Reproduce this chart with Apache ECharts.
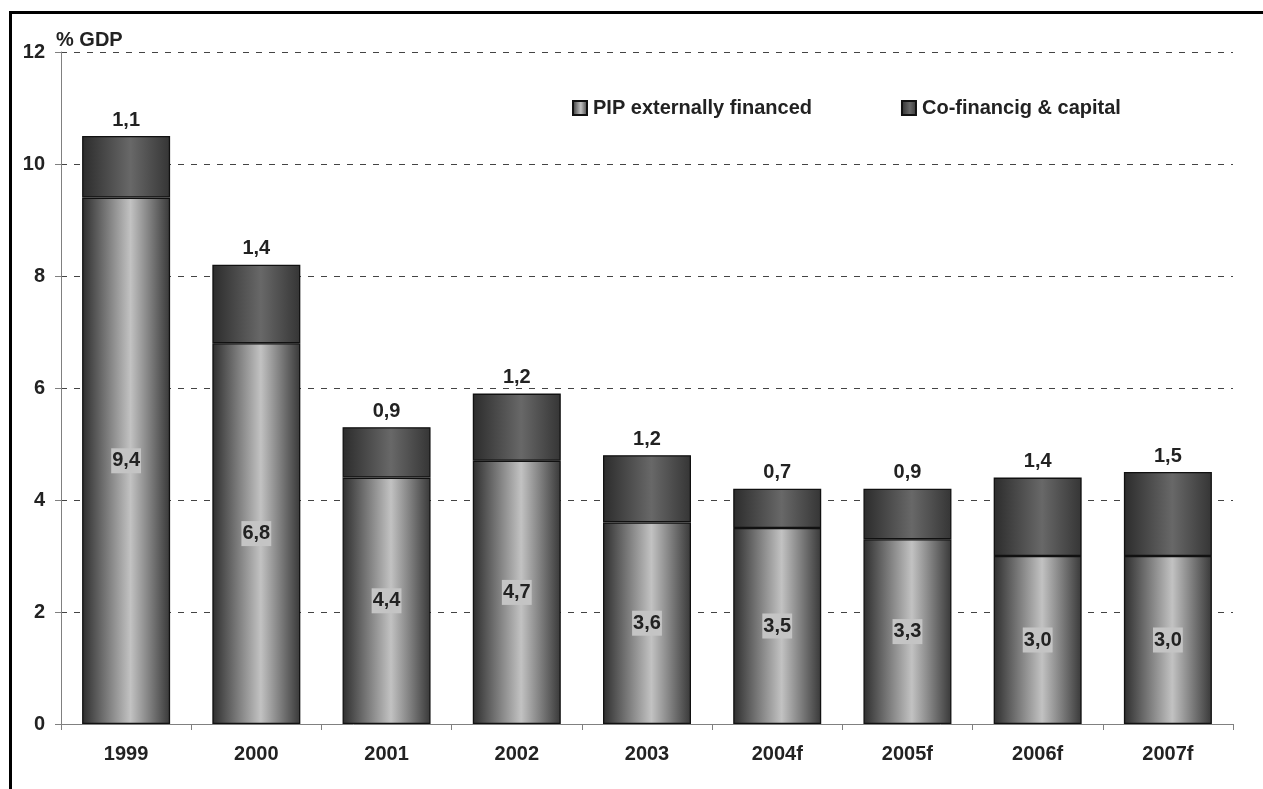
<!DOCTYPE html>
<html>
<head>
<meta charset="utf-8">
<script src="https://cdn.jsdelivr.net/npm/echarts@6/dist/echarts.min.js"></script>
<style>
  html, body { margin: 0; padding: 0; background: #fff; }
  #chart { width: 1263px; height: 789px; }
</style>
</head>
<body>
<div id="chart"></div>
<script>
// Public investment programme, % of GDP
const years = ['1999', '2000', '2001', '2002', '2003', '2004f', '2005f', '2006f', '2007f'];
const pipExternal = [9.4, 6.8, 4.4, 4.7, 3.6, 3.5, 3.3, 3.0, 3.0];
const coFinancing = [1.1, 1.4, 0.9, 1.2, 1.2, 0.7, 0.9, 1.4, 1.5];
const yTicks = [0, 2, 4, 6, 8, 10, 12];

const FONT = 'Liberation Sans, Arial, sans-serif';
const TXT = '#222';

const commaFmt = v => v.toFixed(1).replace('.', ',');

function hGrad(stops) {
  return new echarts.graphic.LinearGradient(0, 0, 1, 0,
    stops.map(([o, c]) => ({ offset: o, color: c })));
}

const lightBar = hGrad([[0, '#2e2e2e'], [0.55, '#c2c2c2'], [1, '#383838']]);
const darkBar = hGrad([[0, '#2c2c2c'], [0.55, '#686868'], [1, '#353535']]);

const chart = echarts.init(document.getElementById('chart'), null, { renderer: 'canvas' });

chart.setOption({
  animation: false,
  backgroundColor: '#fff',
  textStyle: { fontFamily: FONT },
  grid: { left: 61, right: 30, top: 52, bottom: 65 },
  legend: {
    left: 572, top: 98,
    padding: 0,
    icon: 'rect',
    itemWidth: 14, itemHeight: 14, itemGap: 89,
    textStyle: { fontFamily: FONT, fontSize: 20, fontWeight: 'bold', color: TXT, padding: [0, 0, 0, 1] },
    data: ['PIP externally financed', 'Co-financig & capital']
  },
  xAxis: {
    type: 'category',
    data: years,
    axisLine: { lineStyle: { color: '#808080', width: 1 } },
    axisTick: { show: true, length: 6, lineStyle: { color: '#808080' } },
    axisLabel: { fontFamily: FONT, fontSize: 20, fontWeight: 'bold', color: TXT, margin: 20 }
  },
  yAxis: {
    type: 'value',
    min: yTicks[0], max: yTicks[yTicks.length - 1], interval: 2,
    name: '% GDP',
    nameLocation: 'end',
    nameGap: 2,
    nameTextStyle: { fontFamily: FONT, fontSize: 20, fontWeight: 'bold', color: TXT, align: 'left', verticalAlign: 'bottom', padding: [0, 0, 0, -5] },
    axisLine: { show: true, lineStyle: { color: '#808080', width: 1 } },
    axisTick: { show: true, length: 6, lineStyle: { color: '#808080' } },
    axisLabel: { fontFamily: FONT, fontSize: 20, fontWeight: 'bold', color: TXT, margin: 16 },
    splitLine: { show: true, lineStyle: { color: '#444', width: 1, type: [6, 7] } }
  },
  series: [
    {
      name: 'PIP externally financed',
      type: 'bar',
      stack: 'total',
      barWidth: 88,
      data: pipExternal,
      itemStyle: { color: lightBar, borderColor: '#111', borderWidth: 1.3 },
      label: {
        show: true,
        position: 'inside',
        formatter: p => commaFmt(p.value),
        fontFamily: FONT, fontSize: 20, fontWeight: 'bold', color: TXT,
        backgroundColor: '#c4c4c4',
        padding: [3, 1, 2, 1]
      }
    },
    {
      name: 'Co-financig & capital',
      type: 'bar',
      stack: 'total',
      barWidth: 88,
      data: coFinancing,
      itemStyle: { color: darkBar, borderColor: '#111', borderWidth: 1.3 },
      label: {
        show: true,
        position: 'top',
        distance: 6,
        formatter: p => commaFmt(p.value),
        fontFamily: FONT, fontSize: 20, fontWeight: 'bold', color: TXT
      }
    }
  ],
  graphic: [
    // frame edges along top and left
    { type: 'line', shape: { x1: 9, y1: 12.5, x2: 1263, y2: 12.5 }, style: { stroke: '#000', lineWidth: 3 }, silent: true },
    { type: 'line', shape: { x1: 10.5, y1: 11, x2: 10.5, y2: 789 }, style: { stroke: '#000', lineWidth: 3 }, silent: true }
  ]
});
</script>
</body>
</html>
